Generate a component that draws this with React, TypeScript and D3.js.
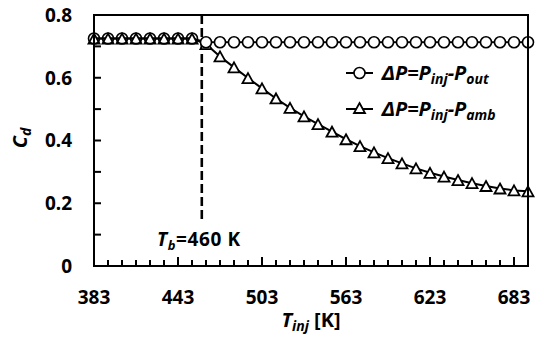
import React from "react";
import * as d3 from "d3";

const temps = [383, 393, 403, 413, 423, 433, 443, 453, 463, 473, 483, 493, 503, 513, 523, 533, 543, 553, 563, 573, 583, 593, 603, 613, 623, 633, 643, 653, 663, 673, 683, 693];
const cdOut = [0.725, 0.725, 0.725, 0.725, 0.725, 0.725, 0.725, 0.725, 0.713, 0.713, 0.713, 0.713, 0.713, 0.713, 0.713, 0.713, 0.713, 0.713, 0.713, 0.713, 0.713, 0.713, 0.713, 0.713, 0.713, 0.713, 0.713, 0.713, 0.713, 0.713, 0.713, 0.713];
const cdAmb = [0.725, 0.725, 0.725, 0.725, 0.725, 0.725, 0.725, 0.725, 0.707, 0.668, 0.633, 0.599, 0.566, 0.534, 0.504, 0.477, 0.452, 0.428, 0.404, 0.382, 0.362, 0.344, 0.327, 0.311, 0.297, 0.285, 0.274, 0.264, 0.255, 0.247, 0.241, 0.238];
const xMajorTicks = [383, 443, 503, 563, 623, 683];
const xMinorTicks = [393, 403, 413, 423, 433, 453, 463, 473, 483, 493, 513, 523, 533, 543, 553, 573, 583, 593, 603, 613, 633, 643, 653, 663, 673, 693];
const yTicks = [0, 0.2, 0.4, 0.6, 0.8];
const yMinorTicks = [0.1, 0.3, 0.5, 0.7];
const breakT = 460;

const W = 538, H = 338;
const L = 94, R = 528, T = 15, B = 266;

export default function App() {
  const x = d3.scaleLinear().domain([383, 693]).range([L, R]);
  const y = d3.scaleLinear().domain([0, 0.8]).range([B, T]);
  const line = d3.line<number>().x((_, i) => x(temps[i])).y((d) => y(d));
  const font = "'Noto Sans', 'DejaVu Sans', sans-serif";
  const tri = (cx: number, cy: number) => {
    const w = 11, h = 10;
    return `M${cx},${cy - h / 2}L${cx + w / 2},${cy + h / 2}L${cx - w / 2},${cy + h / 2}Z`;
  };
  return (
    <svg width={W} height={H} style={{ position: "absolute", left: 0, top: 0, background: "#fff" }} fontFamily={font}>
      <rect x={0} y={0} width={W} height={H} fill="#fff" />
      {/* y ticks */}
      {yTicks.concat(yMinorTicks).map((t) => (
        <line key={"yt" + t} x1={L} x2={L + 7} y1={y(t)} y2={y(t)} stroke="#000" strokeWidth={2} />
      ))}
      {yTicks.map((t) => (
        <text key={"yl" + t} x={72} y={y(t)} dy="0.36em" textAnchor="end" fontSize={19} fontWeight="bold">
          {t === 0 ? "0" : t.toFixed(1)}
        </text>
      ))}
      {/* x ticks */}
      {xMajorTicks.map((t) => (
        <line key={"xM" + t} x1={x(t)} x2={x(t)} y1={B} y2={B - 9} stroke="#000" strokeWidth={2} />
      ))}
      {xMinorTicks.map((t) => (
        <line key={"xm" + t} x1={x(t)} x2={x(t)} y1={B} y2={B - 6} stroke="#000" strokeWidth={2} />
      ))}
      {xMajorTicks.map((t) => (
        <text key={"xl" + t} x={x(t)} y={304} textAnchor="middle" fontSize={19} fontWeight="bold">
          {t}
        </text>
      ))}
      {/* break line */}
      <line x1={x(breakT)} x2={x(breakT)} y1={T} y2={222} stroke="#000" strokeWidth={2.6} strokeDasharray="9,4" />
      <text x={157} y={246} fontSize={19} fontWeight="bold" letterSpacing={0.6}>
        <tspan fontStyle="italic">T</tspan>
        <tspan fontStyle="italic" fontSize={13} dy={4}>b</tspan>
        <tspan dy={-4}>=460 K</tspan>
      </text>
      {/* series lines */}
      <path d={line(cdAmb) || ""} fill="none" stroke="#000" strokeWidth={2} />
      <path d={line(cdOut) || ""} fill="none" stroke="#000" strokeWidth={2} />
      {cdAmb.map((v, i) => (
        <path key={"tr" + i} d={tri(x(temps[i]), y(v))} fill="#fff" stroke="#000" strokeWidth={1.8} />
      ))}
      {cdOut.map((v, i) => (
        <circle key={"ci" + i} cx={x(temps[i])} cy={y(v)} r={5.5} fill="#fff" fillOpacity={i < 8 ? 0 : 1} stroke="#000" strokeWidth={1.6} />
      ))}
      {/* frame */}
      <rect x={L} y={T} width={R - L} height={B - T} fill="none" stroke="#000" strokeWidth={2} />
      {/* legend */}
      <line x1={346} x2={373} y1={73} y2={73} stroke="#000" strokeWidth={2} />
      <circle cx={359.5} cy={73} r={5.5} fill="#fff" stroke="#000" strokeWidth={1.6} />
      <text x={382} y={80} fontSize={20} fontWeight="bold" fontStyle="italic">
        <tspan>ΔP=P</tspan>
        <tspan fontSize={14} dy={4}>inj</tspan>
        <tspan dy={-4}>-P</tspan>
        <tspan fontSize={14} dy={4}>out</tspan>
      </text>
      <line x1={346} x2={373} y1={109} y2={109} stroke="#000" strokeWidth={2} />
      <path d={tri(359.5, 108)} fill="#fff" stroke="#000" strokeWidth={1.8} />
      <text x={382} y={116} fontSize={20} fontWeight="bold" fontStyle="italic">
        <tspan>ΔP=P</tspan>
        <tspan fontSize={14} dy={4}>inj</tspan>
        <tspan dy={-4}>-P</tspan>
        <tspan fontSize={14} dy={4}>amb</tspan>
      </text>
      {/* axis titles */}
      <text transform="translate(27,138) rotate(-90)" textAnchor="middle" fontSize={20} fontWeight="bold" fontStyle="italic">
        <tspan>C</tspan>
        <tspan fontSize={14} dy={4}>d</tspan>
      </text>
      <text x={311} y={327} textAnchor="middle" fontSize={20} fontWeight="bold">
        <tspan fontStyle="italic">T</tspan>
        <tspan fontStyle="italic" fontSize={14} dy={4}>inj</tspan>
        <tspan dy={-4}> [K]</tspan>
      </text>
    </svg>
  );
}
